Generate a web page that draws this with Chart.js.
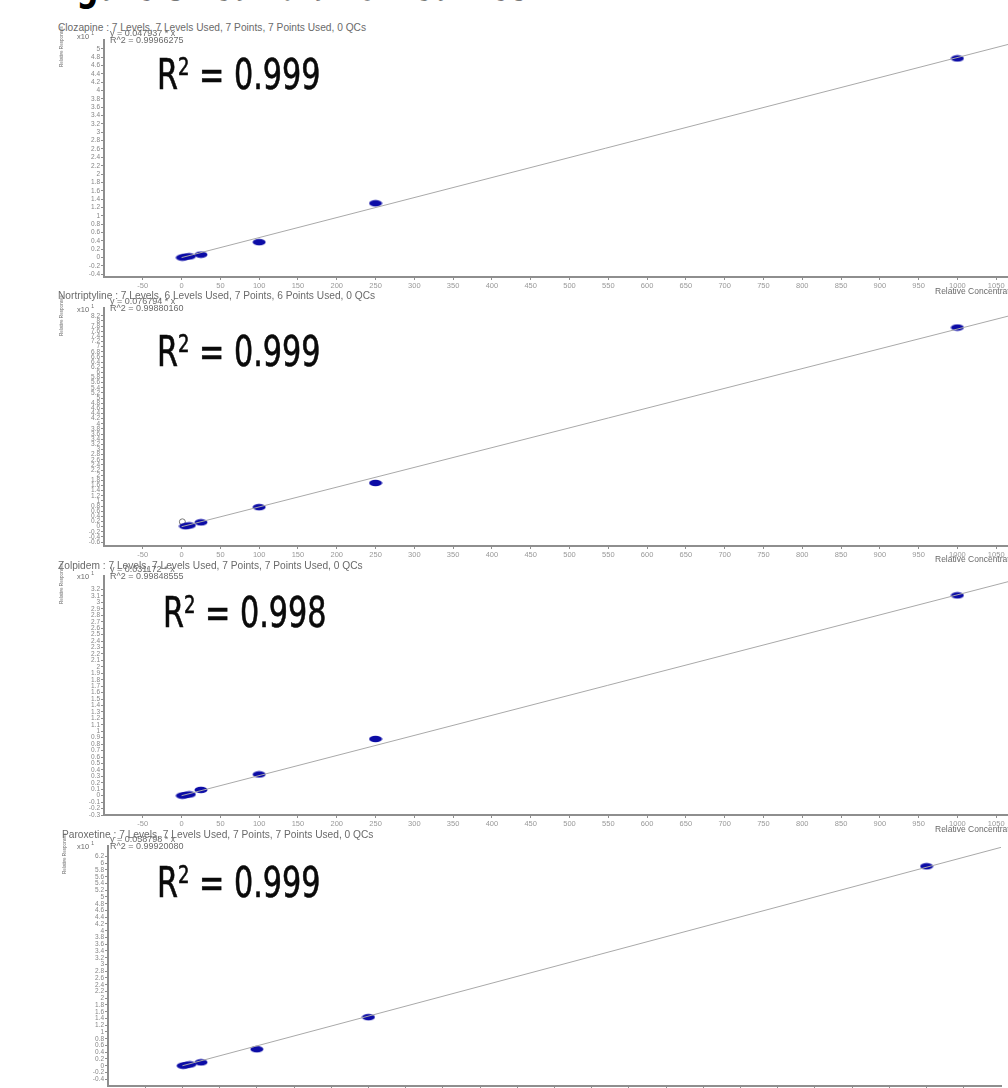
<!DOCTYPE html>
<html>
<head>
<meta charset="utf-8">
<script src="https://cdn.jsdelivr.net/npm/chart.js@4.4.0/dist/chart.umd.min.js"></script>
<style>
  html, body { margin: 0; padding: 0; background: #fff; }
  body { width: 1008px; height: 1088px; overflow: hidden; position: relative; font-family: "Liberation Sans", Arial, sans-serif; }
  .box { position: absolute; left: 0; }
  .txt { position: absolute; white-space: nowrap; color: #6a6a6a; }
  .hdr { font-size: 10.2px; line-height: 10px; }
  .eq { font-size: 9px; line-height: 6.5px; left: 110px; }
  .mult { font-size: 7.5px; line-height: 8px; left: 77px; }
  .ytitle { font-size: 4.6px; line-height: 6px; transform-origin: 0 0; transform: rotate(-90deg); }
  .xtitle { font-size: 8.5px; line-height: 8px; left: 935px; }
  .r2 { font-family: "DejaVu Sans Condensed", "DejaVu Sans", sans-serif; font-stretch: condensed; font-size: 42px; line-height: 42px; color: #0a0a0a; -webkit-text-stroke: 0.6px #0a0a0a; transform-origin: 0 0; transform: scaleX(0.8); }
  .r2 span { font-size: 25px; position: relative; top: -14px; }
  .title { font-family: "DejaVu Sans Condensed", "DejaVu Sans", sans-serif; font-stretch: condensed; font-weight: bold; font-size: 40px; line-height: 40px; color: #000; left: 45px; top: -34px; transform-origin: 0 0; transform: scaleX(0.85); }
</style>
</head>
<body>
<div class="txt title">Figure 3. Calibration Curves</div>

<div class="box" style="top:33px;width:1042px;height:266px"><canvas id="chart1"></canvas></div>
<div class="box" style="top:301px;width:1042px;height:267px"><canvas id="chart2"></canvas></div>
<div class="box" style="top:569px;width:1042px;height:268px"><canvas id="chart3"></canvas></div>
<div class="box" style="top:839px;width:1008px;height:269px"><canvas id="chart4"></canvas></div>

<!-- panel 1 texts -->
<div class="txt hdr" style="left:58px;top:23px">Clozapine : 7 Levels, 7 Levels Used, 7 Points, 7 Points Used, 0 QCs</div>
<div class="txt mult" style="top:29px">x10 <sup style="font-size:5px">1</sup></div>
<div class="txt ytitle" style="left:59px;top:67px">Relative Responses</div>
<div class="txt eq" style="top:30px">y = 0.047937 * x<br>R^2 = 0.99966275</div>
<div class="txt xtitle" style="top:287px">Relative Concentration</div>
<div class="txt r2" style="left:157px;top:54px">R<span>2</span> = 0.999</div>

<!-- panel 2 texts -->
<div class="txt hdr" style="left:58px;top:291px">Nortriptyline : 7 Levels, 6 Levels Used, 7 Points, 6 Points Used, 0 QCs</div>
<div class="txt mult" style="top:302px">x10 <sup style="font-size:5px">1</sup></div>
<div class="txt ytitle" style="left:59px;top:336px">Relative Responses</div>
<div class="txt eq" style="top:298px">y = 0.076794 * x<br>R^2 = 0.99880160</div>
<div class="txt xtitle" style="top:555px">Relative Concentration</div>
<div class="txt r2" style="left:157px;top:331px">R<span>2</span> = 0.999</div>

<!-- panel 3 texts -->
<div class="txt hdr" style="left:58px;top:561px">Zolpidem : 7 Levels, 7 Levels Used, 7 Points, 7 Points Used, 0 QCs</div>
<div class="txt mult" style="top:569px">x10 <sup style="font-size:5px">1</sup></div>
<div class="txt ytitle" style="left:59px;top:604px">Relative Responses</div>
<div class="txt eq" style="top:566px">y = 0.031172 * x<br>R^2 = 0.99848555</div>
<div class="txt xtitle" style="top:825px">Relative Concentration</div>
<div class="txt r2" style="left:163px;top:592px">R<span>2</span> = 0.998</div>

<!-- panel 4 texts -->
<div class="txt hdr" style="left:62px;top:830px">Paroxetine : 7 Levels, 7 Levels Used, 7 Points, 7 Points Used, 0 QCs</div>
<div class="txt mult" style="top:839px">x10 <sup style="font-size:5px">1</sup></div>
<div class="txt ytitle" style="left:62px;top:874px">Relative Responses</div>
<div class="txt eq" style="top:836px">y = 0.058798 * x<br>R^2 = 0.99920080</div>
<div class="txt r2" style="left:157px;top:862px">R<span>2</span> = 0.999</div>

<script>
// concentration levels (x) shared by all four compounds
var niveis = [1, 5, 10, 25, 100, 250, 1000];

// responses (x10^1)
var clozapina = [0.0, 0.02, 0.03, 0.07, 0.37, 1.30, 4.77];
var nortriptilinaX = [5, 10, 25, 100, 250, 1000];
var nortriptilina = [0.02, 0.05, 0.17, 0.76, 1.70, 7.74];
var nortriptilinaExcluidoX = [1];
var nortriptilinaExcluido = [0.19];
var zolpidem = [0.0, 0.01, 0.02, 0.09, 0.33, 0.88, 3.11];
var paroxetina = [0.0, 0.02, 0.04, 0.10, 0.49, 1.44, 5.91];

// regression line end points (x = 0 and x = 1100)
var retaX = [0, 1100];
var retaClozapina = [0, 5.27];
var retaNortriptilina = [0, 8.45];
var retaZolpidem = [0, 3.43];
var retaParoxetina = [0, 6.47];

// tick labels
var ticksX = [-50, 0, 50, 100, 150, 200, 250, 300, 350, 400, 450, 500, 550, 600, 650, 700, 750, 800, 850, 900, 950, 1000, 1050];
var ticksY1 = [5, 4.8, 4.6, 4.4, 4.2, 4, 3.8, 3.6, 3.4, 3.2, 3, 2.8, 2.6, 2.4, 2.2, 2, 1.8, 1.6, 1.4, 1.2, 1, 0.8, 0.6, 0.4, 0.2, 0, -0.2, -0.4];
var ticksY2 = [8.2, 8, 7.8, 7.6, 7.4, 7.2, 7, 6.8, 6.6, 6.4, 6.2, 6, 5.8, 5.6, 5.4, 5.2, 5, 4.8, 4.6, 4.4, 4.2, 4, 3.8, 3.6, 3.4, 3.2, 3, 2.8, 2.6, 2.4, 2.2, 2, 1.8, 1.6, 1.4, 1.2, 1, 0.8, 0.6, 0.4, 0.2, 0, -0.2, -0.4, -0.6];
var ticksY3 = [3.2, 3.1, 3, 2.9, 2.8, 2.7, 2.6, 2.5, 2.4, 2.3, 2.2, 2.1, 2, 1.9, 1.8, 1.7, 1.6, 1.5, 1.4, 1.3, 1.2, 1.1, 1, 0.9, 0.8, 0.7, 0.6, 0.5, 0.4, 0.3, 0.2, 0.1, 0, -0.1, -0.2, -0.3];
var ticksY4 = [6.2, 6, 5.8, 5.6, 5.4, 5.2, 5, 4.8, 4.6, 4.4, 4.2, 4, 3.8, 3.6, 3.4, 3.2, 3, 2.8, 2.6, 2.4, 2.2, 2, 1.8, 1.6, 1.4, 1.2, 1, 0.8, 0.6, 0.4, 0.2, 0, -0.2, -0.4];

// blue ellipse used as point marker
var elipse = document.createElement('canvas');
elipse.width = 14;
elipse.height = 8;
var ctxE = elipse.getContext('2d');
ctxE.fillStyle = '#0c0ca6';
ctxE.beginPath();
ctxE.ellipse(7, 4, 6.5, 3.3, 0, 0, Math.PI * 2);
ctxE.fill();

function pares(xs, ys) {
    var out = [];
    for (var i = 0; i < xs.length; i++) {
        out.push({ x: xs[i], y: ys[i] });
    }
    return out;
}

function plotarPainel(id, xsPontos, ysPontos, ysReta, ticksY, yMin, yMax, larguraY, extra) {
    var corEixo = '#8e8e8e';
    var datasets = [
        {
            data: pares(retaX, ysReta),
            showLine: true,
            borderColor: '#a9a9a9',
            borderWidth: 1,
            pointRadius: 0
        },
        {
            data: pares(xsPontos, ysPontos),
            showLine: false,
            pointStyle: elipse,
            pointRadius: 6
        }
    ];
    if (extra) {
        datasets.push(extra);
    }

    new Chart(document.getElementById(id), {
        type: 'scatter',
        data: { datasets: datasets },
        options: {
            responsive: true,
            maintainAspectRatio: false,
            animation: false,
            layout: { padding: 0 },
            plugins: { legend: { display: false }, tooltip: { enabled: false } },
            scales: {
                x: {
                    type: 'linear',
                    min: -100,
                    max: 1100,
                    border: { display: true, color: corEixo, width: 2 },
                    grid: { drawOnChartArea: false, drawTicks: true, tickLength: 3, color: corEixo },
                    ticks: {
                        autoSkip: false,
                        maxRotation: 0,
                        padding: 1,
                        color: '#999',
                        font: { size: 7.5, family: 'Liberation Sans' },
                        callback: function (v) { return String(v); }
                    },
                    afterBuildTicks: function (axis) {
                        axis.ticks = ticksX.map(function (v) { return { value: v }; });
                    },
                    afterFit: function (axis) {
                        axis.height = 22;
                        axis.paddingLeft = 0;
                        axis.paddingRight = 0;
                    }
                },
                y: {
                    type: 'linear',
                    min: yMin,
                    max: yMax,
                    border: { display: true, color: corEixo, width: 2 },
                    grid: { drawOnChartArea: false, drawTicks: true, tickLength: 3, color: corEixo },
                    ticks: {
                        autoSkip: false,
                        padding: 1,
                        color: '#858585',
                        font: { size: 6.5, family: 'Liberation Sans' },
                        callback: function (v) { return String(v); }
                    },
                    afterBuildTicks: function (axis) {
                        axis.ticks = ticksY.map(function (v) { return { value: v }; });
                    },
                    afterFit: function (axis) {
                        axis.width = larguraY;
                        axis.paddingTop = 0;
                        axis.paddingBottom = 0;
                    }
                }
            }
        }
    });
}

plotarPainel('chart1', niveis, clozapina, retaClozapina, ticksY1, -0.465, 5.21, 104);

plotarPainel('chart2', nortriptilinaX, nortriptilina, retaNortriptilina, ticksY2, -0.75, 8.5, 104, {
    data: pares(nortriptilinaExcluidoX, nortriptilinaExcluido),
    showLine: false,
    pointStyle: 'circle',
    pointRadius: 3,
    borderWidth: 1,
    borderColor: '#777',
    backgroundColor: 'rgba(0,0,0,0)'
});

plotarPainel('chart3', niveis, zolpidem, retaZolpidem, ticksY3, -0.3, 3.41, 104);

plotarPainel('chart4', niveis, paroxetina, retaParoxetina, ticksY4, -0.6, 6.51, 108);
</script>
</body>
</html>
